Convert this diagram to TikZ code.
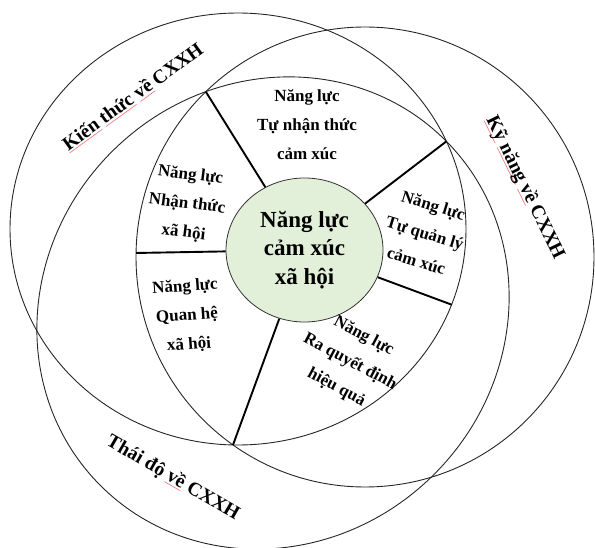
\documentclass[tikz,border=0pt]{standalone}
\usepackage{fontspec}
\setmainfont{Liberation Serif}
\usetikzlibrary{shapes.geometric,intersections,calc}
\definecolor{softgreen}{HTML}{E2EFD9}
\definecolor{spellred}{HTML}{F08080}
\newlength\spellw
\newcommand\spellmark[1]{\settowidth{\spellw}{#1}\makebox[0pt][l]{\textcolor{spellred}{\rule[-2.6pt]{\spellw}{0.7pt}}}#1}
\begin{document}
\begin{tikzpicture}[x=1pt,y=-1pt,
  bigring/.style={draw=black!85,line width=0.9pt},
  divider/.style={draw=black,line width=1.9pt},
  sectortext/.style={align=center,font=\bfseries\fontsize{17}{29}\selectfont,inner sep=0pt},
  ringlabel/.style={font=\bfseries\fontsize{19.5}{22}\selectfont,inner sep=0pt},
  core/.style={ellipse,draw=black!80,line width=0.8pt,fill=softgreen,
    minimum width=157pt,minimum height=144pt,inner sep=0pt,align=center,
    font=\bfseries\fontsize{23}{28.5}\selectfont}]
\useasboundingbox (0,0) rectangle (595,548);
\coordinate (Kc) at (238,229);
\coordinate (Sc) at (365,257);
\coordinate (Tc) at (273,313);
\draw[bigring,name path=K] (Kc) ellipse [x radius=228,y radius=216];
\draw[bigring,name path=S] (Sc) ellipse [x radius=229,y radius=230];
\draw[bigring,name path=T,rotate around={45:(Tc)}] (Tc) ellipse [x radius=244,y radius=228];
\path[name intersections={of=S and T,name=st}];
\path[name intersections={of=K and T,name=kt}];
\path[name intersections={of=K and S,name=ks}];
% upper crossing of S and T
\path (st-1); \pgfgetlastxy{\myax}{\myay};
\path (st-2); \pgfgetlastxy{\mybx}{\myby};
\ifdim\myay>\myby\relax \coordinate (vST) at (st-1); \else \coordinate (vST) at (st-2); \fi
% upper crossing of K and T
\path (kt-1); \pgfgetlastxy{\myax}{\myay};
\path (kt-2); \pgfgetlastxy{\mybx}{\myby};
\ifdim\myay>\myby\relax \coordinate (vKT) at (kt-1); \else \coordinate (vKT) at (kt-2); \fi
% lower crossing of K and S
\path (ks-1); \pgfgetlastxy{\myax}{\myay};
\path (ks-2); \pgfgetlastxy{\mybx}{\myby};
\ifdim\myay<\myby\relax \coordinate (vKS) at (ks-1); \else \coordinate (vKS) at (ks-2); \fi
\coordinate (vR) at ($(Kc)+(20.5:228 and 216)$);
\coordinate (vL) at ($(Sc)+(181:229 and 230)$);
\node[core] (g) at (304.5,250) {Năng lực\\cảm xúc\\xã hội};
\draw[divider] (g) -- (vST);
\draw[divider] (g) -- (vKT);
\draw[divider] (g) -- (vR);
\draw[divider] (g) -- (vKS);
\draw[divider] (g) -- (vL);
\node[sectortext] (t1) at (307,125) {Năng lực\\Tự nhận thức\\cảm xúc};
\node[sectortext,rotate=-7] (t2) at (187,204) {Năng lực\\Nhận thức\\xã hội};
\node[sectortext,rotate=-17] (t3) at (425,233) {Năng lực\\Tự quản lý\\cảm xúc};
\node[sectortext,rotate=-28] (t4) at (350,362) {Năng lực\\Ra quyết định\\hiệu quả};
\node[sectortext,rotate=4] (t5) at (187,316) {Năng lực\\Quan hệ\\xã hội};
\node[ringlabel,rotate=36] (lk) at (133,97) {\spellmark{Kiến} \spellmark{thức} \spellmark{về} CXXH};
\node[ringlabel,rotate=-64] (ls) at (525,188) {\spellmark{Kỹ} \spellmark{năng} \spellmark{về} CXXH};
\node[ringlabel,rotate=-30] (lt) at (173,478) {Thái độ \spellmark{về} CXXH};
\end{tikzpicture}
\end{document}
